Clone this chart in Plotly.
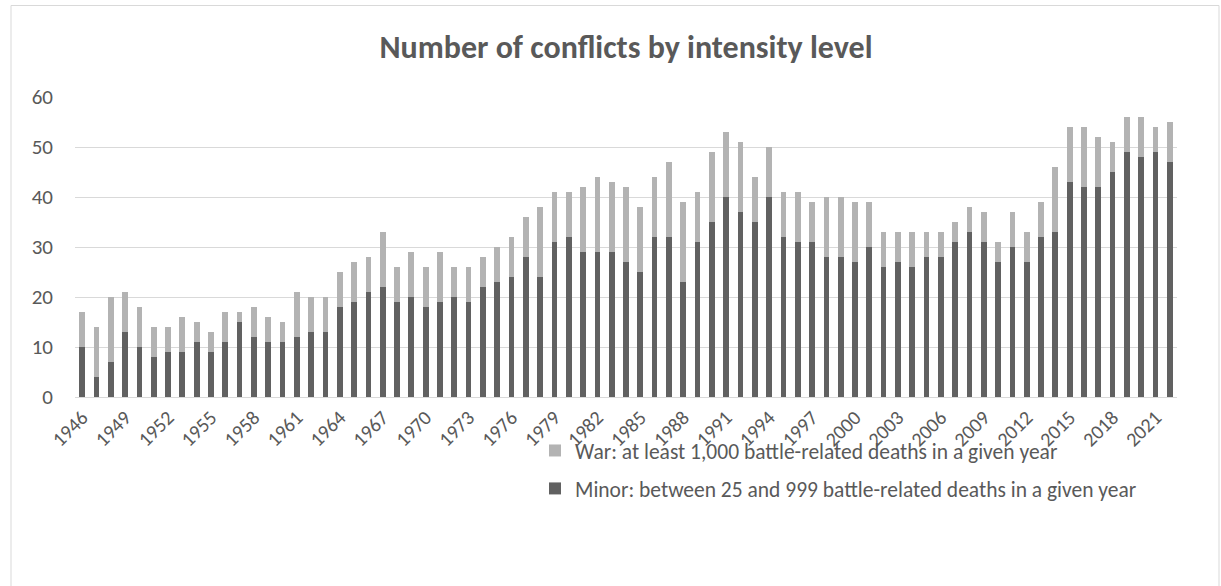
import plotly.graph_objects as go

# Conflict counts per year, split by intensity level
years = list(range(1946, 2023))
minor = [10, 4, 7, 13, 10, 8, 9, 9, 11, 9,
         11, 15, 12, 11, 11, 12, 13, 13, 18, 19,
         21, 22, 19, 20, 18, 19, 20, 19, 22, 23,
         24, 28, 24, 31, 32, 29, 29, 29, 27, 25,
         32, 32, 23, 31, 35, 40, 37, 35, 40, 32,
         31, 31, 28, 28, 27, 30, 26, 27, 26, 28,
         28, 31, 33, 31, 27, 30, 27, 32, 33, 43,
         42, 42, 45, 49, 48, 49, 47]
war = [7, 10, 13, 8, 8, 6, 5, 7, 4, 4,
       6, 2, 6, 5, 4, 9, 7, 7, 7, 8,
       7, 11, 7, 9, 8, 10, 6, 7, 6, 7,
       8, 8, 14, 10, 9, 13, 15, 14, 15, 13,
       12, 15, 16, 10, 14, 13, 14, 9, 10, 9,
       10, 8, 12, 12, 12, 9, 7, 6, 7, 5,
       5, 4, 5, 6, 4, 7, 6, 7, 13, 11,
       12, 10, 6, 7, 8, 5, 8]
tick_years = years[::3]

minor_label = "Minor: between 25 and 999 battle-related deaths in a given year"
war_label = "War: at least 1,000 battle-related deaths in a given year"
title_text = "Number of conflicts by intensity level"

FONT = "Carlito, Calibri, Lato, sans-serif"
TEXT_COLOR = "#595959"
GRID_COLOR = "#d9d9d9"

W, H = 1221, 586
ML, MR, MT, MB = 75, 44, 97, 189
PW, PH = W - ML - MR, H - MT - MB

x_cat = [str(y) for y in years]

fig = go.Figure()
fig.add_trace(go.Bar(x=x_cat, y=minor, name=minor_label, legendgroup="minor",
                     legendrank=2,
                     marker=dict(color="#616161", line=dict(width=0))))
fig.add_trace(go.Bar(x=x_cat, y=war, name=war_label, legendgroup="war",
                     legendrank=1,
                     marker=dict(color="#b3b3b3", line=dict(width=0))))


def px_x(p):
    return (p - ML) / PW


def px_y(p):
    return (MT + PH - p) / PH


fig.update_layout(
    width=W, height=H,
    autosize=False,
    barmode="stack",
    bargap=0.6,
    paper_bgcolor="white",
    plot_bgcolor="white",
    margin=dict(l=ML, r=MR, t=MT, b=MB, pad=0),
    font=dict(family=FONT, color=TEXT_COLOR, size=20),
    title=dict(text="<b>" + title_text + "</b>", x=0.5, xanchor="center",
               y=1 - 47 / H, yanchor="middle", xref="paper",
               font=dict(family=FONT, size=32, color=TEXT_COLOR)),
    xaxis=dict(type="category", tickmode="array",
               tickvals=[str(y) for y in tick_years],
               ticktext=[str(y) for y in tick_years],
               tickangle=-45, showgrid=False, ticks="",
               showline=True, linecolor=GRID_COLOR, linewidth=1,
               tickfont=dict(family=FONT, size=20, color=TEXT_COLOR)),
    yaxis=dict(range=[0, 60], dtick=10, showgrid=True, gridcolor=GRID_COLOR,
               gridwidth=1, zeroline=False, ticks="", ticklabelstandoff=21,
               tickfont=dict(family=FONT, size=21, color=TEXT_COLOR)),
    legend=dict(orientation="v", traceorder="grouped",
                tracegroupgap=7, x=px_x(535), xanchor="left",
                y=px_y(430), yanchor="top", bgcolor="rgba(0,0,0,0)",
                font=dict(family=FONT, size=21.5, color=TEXT_COLOR)),
    shapes=[dict(type="rect", xref="paper", yref="paper",
                 x0=px_x(11), x1=px_x(1219), y0=px_y(5.5), y1=px_y(592),
                 line=dict(color=GRID_COLOR, width=1), layer="below")],
)

fig.write_html("out.html")
